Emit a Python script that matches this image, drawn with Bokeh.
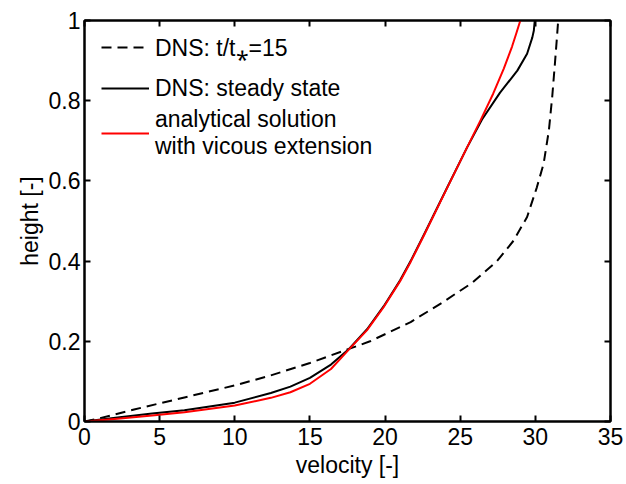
from bokeh.plotting import figure
from bokeh.models import (Range1d, LinearAxis, FixedTicker, CustomJSTickFormatter,
                          Legend, LegendItem)
from bokeh.embed import file_html
from bokeh.resources import INLINE

# ---- data ----
vel_dns15 = [0, 0.9, 3.3, 6.65, 10.0, 12.4, 15.0, 17.6, 19.0, 21.7, 23.7, 25.8,
             27.45, 28.55, 29.45, 30.1, 30.55, 30.9, 31.12, 31.3, 31.42, 31.52]
h_dns15 = [0, 0.007, 0.03, 0.06, 0.09, 0.115, 0.146, 0.181, 0.2, 0.248, 0.294,
           0.346, 0.40, 0.451, 0.51, 0.584, 0.643, 0.726, 0.809, 0.892, 0.95, 1.0]

vel_ss = [0, 2.2, 4.5, 6.65, 10.0, 12.4, 13.7, 15.0, 16.4, 17.6, 18.8, 19.9, 21.0,
          21.7, 22.6, 24.1, 25.45, 26.45, 27.65, 28.8, 29.45, 29.8, 29.9, 29.96]
h_ss = [0, 0.01, 0.02, 0.028, 0.047, 0.071, 0.087, 0.109, 0.142, 0.181, 0.23,
        0.287, 0.352, 0.40, 0.467, 0.581, 0.683, 0.753, 0.82, 0.875, 0.917, 0.958,
        0.975, 1.0]

vel_an = [0, 2.2, 4.5, 6.65, 10.0, 12.4, 13.7, 15.0, 16.4, 17.6, 18.8, 19.9, 21.0,
          21.7, 22.6, 24.1, 25.45, 26.35, 27.2, 27.9, 28.45, 28.75, 29.0]
h_an = [0, 0.007, 0.015, 0.023, 0.04, 0.059, 0.073, 0.094, 0.131, 0.18, 0.228,
        0.285, 0.35, 0.398, 0.465, 0.58, 0.683, 0.751, 0.818, 0.88, 0.935, 0.97,
        1.0]

x_ticks = [0, 5, 10, 15, 20, 25, 30, 35]
y_ticks = [0, 0.2, 0.4, 0.6, 0.8, 1.0]

labels = ["DNS: t/t\u204e=15", "DNS: steady state",
          "analytical solution\nwith vicous extension"]

FONT = "Liberation Sans"
FS = "23px"

p = figure(width=626, height=484, output_backend="svg", toolbar_location=None,
           title=None, x_range=Range1d(0, 35), y_range=Range1d(0, 1),
           min_border_left=84, min_border_right=16, min_border_top=20,
           min_border_bottom=63, x_axis_label="velocity [-]",
           y_axis_label="height [-]")
p.grid.visible = False
p.outline_line_color = "black"
p.outline_line_width = 2
p.background_fill_color = "white"
p.border_fill_color = "white"

r15 = p.line(vel_dns15, h_dns15, line_color="black", line_width=2,
             line_dash="10 6", line_join="round")
rss = p.line(vel_ss, h_ss, line_color="black", line_width=2, line_join="round")
ran = p.line(vel_an, h_an, line_color="red", line_width=2, line_join="round")

yfmt = CustomJSTickFormatter(code="return Number(tick.toFixed(1)).toString();")
blank = CustomJSTickFormatter(code="return '';")

def style_axis(ax, show_labels=True):
    ax.axis_line_width = 2
    ax.axis_line_color = "black"
    ax.major_tick_in = 6
    ax.major_tick_out = 0
    ax.major_tick_line_width = 2
    ax.minor_tick_line_color = None
    ax.major_label_text_font = FONT
    ax.major_label_text_color = "black"
    ax.major_label_text_font_size = FS
    ax.axis_label_text_font = FONT
    ax.axis_label_text_font_style = "normal"
    ax.axis_label_text_font_size = FS
    ax.axis_label_text_color = "black"
    if not show_labels:
        ax.formatter = blank
        ax.major_label_standoff = 0

p.xaxis[0].ticker = FixedTicker(ticks=x_ticks)
p.yaxis[0].ticker = FixedTicker(ticks=y_ticks)
p.yaxis[0].formatter = yfmt
style_axis(p.xaxis[0])
style_axis(p.yaxis[0])
p.xaxis[0].major_label_standoff = 6
p.yaxis[0].major_label_standoff = 4
p.xaxis[0].axis_label_standoff = 4
p.yaxis[0].axis_label_standoff = 3

top_ax = LinearAxis(ticker=FixedTicker(ticks=x_ticks))
right_ax = LinearAxis(ticker=FixedTicker(ticks=y_ticks))
style_axis(top_ax, False)
style_axis(right_ax, False)
p.add_layout(top_ax, "above")
p.add_layout(right_ax, "right")

# legends: one per entry, placed at fixed screen offsets inside the frame
renderers = [r15, rss, ran]
centers_from_top = [26.7, 68.0, 112.5]
for r, lab, c in zip(renderers, labels, centers_from_top):
    lg = Legend(items=[LegendItem(label=lab, renderers=[r])],
                location=(17, 401 - c - 30),
                label_text_font=FONT, label_text_font_size=FS,
                label_text_color="black", glyph_width=48, glyph_height=60,
                label_height=60, label_standoff=6, padding=0, margin=0,
                spacing=0, border_line_color=None, background_fill_alpha=0)
    p.add_layout(lg, "center")

open("out.html", "w").write(file_html(p, INLINE))
